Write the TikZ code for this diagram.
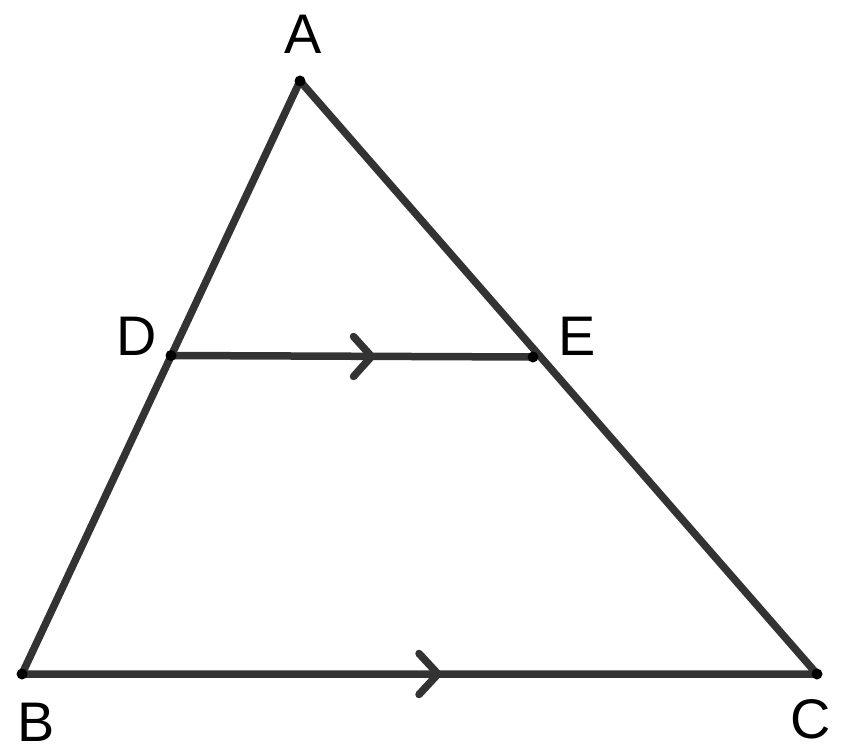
\documentclass[tikz,border=0pt]{standalone}
\usepackage{fontspec}
\setmainfont{Liberation Sans}
\usepackage{tikz}
\usetikzlibrary{calc}
\definecolor{edgegray}{HTML}{333333}
\tikzset{
  side/.style={draw=edgegray, line width=7.5bp, line cap=round, line join=round},
  chevron/.style={side},
  vlabel/.style={font=\fontsize{56}{60}\selectfont, inner sep=0pt}
}
\begin{document}
\begin{tikzpicture}[x=1bp, y=-1bp]
\useasboundingbox (0,0) rectangle (843,753);
% vertices
\coordinate (A) at (300,81);
\coordinate (B) at (22,674);
\coordinate (C) at (817,674);
\coordinate (D) at (171,355.5);
\coordinate (E) at (533,357);
% parallel marks
\coordinate (markDE) at (371.5,356.5);
\coordinate (markBC) at (438,674);
\draw[side] (A) -- (B) -- (C) -- cycle;
\draw[side] (D) -- (E);
\draw[chevron] ($(markDE)+(-18,-20)$) -- (markDE) -- ($(markDE)+(-18,20)$);
\draw[chevron] ($(markBC)+(-19,-20.5)$) -- (markBC) -- ($(markBC)+(-19,20.5)$);
\foreach \p in {A,B,C,D,E}
  \fill[black] (\p) circle (5.5bp);
\node[vlabel] (labA) at (303.5,34) {A};
\node[vlabel] (labB) at (36.5,722) {B};
\node[vlabel] (labC) at (811,719) {C};
\node[vlabel] (labD) at (137,336) {D};
\node[vlabel] (labE) at (577,336) {E};
\end{tikzpicture}
\end{document}
